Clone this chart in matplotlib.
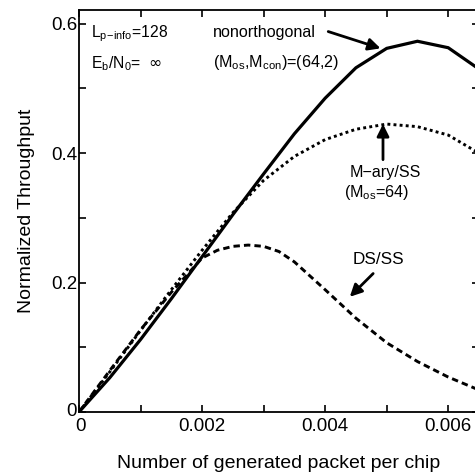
import matplotlib
matplotlib.use("Agg")
import matplotlib.pyplot as plt
import matplotlib.transforms as mtransforms
from matplotlib.ticker import MultipleLocator, FixedLocator, FixedFormatter

plt.rcParams['font.family'] = ['Liberation Sans', 'DejaVu Sans']

# Data
x_solid = [0, 0.0005, 0.001, 0.0015, 0.002, 0.0025, 0.003, 0.0035, 0.004, 0.0045, 0.005, 0.0055, 0.006, 0.0065]
y_nonorth = [0, 0.053, 0.112, 0.175, 0.24, 0.305, 0.368, 0.43, 0.485, 0.532, 0.562, 0.573, 0.563, 0.53]

x_mary = [0, 0.0005, 0.001, 0.0015, 0.002, 0.0025, 0.003, 0.0035, 0.004, 0.0045, 0.005, 0.0055, 0.006, 0.0065]
y_mary = [0, 0.062, 0.126, 0.189, 0.25, 0.308, 0.358, 0.395, 0.421, 0.437, 0.445, 0.441, 0.428, 0.40]

x_ds = [0, 0.0005, 0.001, 0.0015, 0.002, 0.00225, 0.0025, 0.00275, 0.003, 0.00325, 0.0035, 0.004, 0.0045, 0.005, 0.0055, 0.006, 0.0065]
y_ds = [0, 0.064, 0.127, 0.185, 0.238, 0.25, 0.256, 0.258, 0.256, 0.248, 0.232, 0.189, 0.145, 0.107, 0.078, 0.054, 0.034]

xtick_vals = [0, 0.002, 0.004, 0.006]
xtick_labels = ['0', '0.002', '0.004', '0.006']
ytick_vals = [0, 0.2, 0.4, 0.6]
ytick_labels = ['0', '0.2', '0.4', '0.6']

fig = plt.figure(figsize=(4.75, 4.76), dpi=100)
ax = fig.add_axes([79/475, 64/476, 400/475, 402/476])

ax.plot(x_solid, y_nonorth, color='black', lw=2.3, solid_joinstyle='miter')
ax.plot(x_mary, y_mary, color='black', lw=2.1, linestyle=(0, (1.0, 1.1)))
ax.plot(x_ds, y_ds, color='black', lw=2.1, linestyle=(0, (2.2, 1.4)))

ax.set_xlim(0, 0.0065)
ax.set_ylim(0, 0.6213)

ax.xaxis.set_major_locator(FixedLocator(xtick_vals))
ax.xaxis.set_major_formatter(FixedFormatter(xtick_labels))
ax.yaxis.set_major_locator(FixedLocator(ytick_vals))
ax.yaxis.set_major_formatter(FixedFormatter(ytick_labels))
ax.xaxis.set_minor_locator(MultipleLocator(0.001))
ax.yaxis.set_minor_locator(MultipleLocator(0.1))
ax.tick_params(which='both', direction='in', top=True, right=True, length=5, width=1.2,
               labelsize=13.5)
ax.tick_params(axis='y', pad=1)
ax.tick_params(axis='x', pad=4)
for s in ax.spines.values():
    s.set_linewidth(1.3)

# nudge the two origin "0" labels apart slightly
yl0 = ax.yaxis.get_major_ticks()[0].label1
yl0.set_transform(yl0.get_transform() + mtransforms.ScaledTranslation(-1/100, 3/100, fig.dpi_scale_trans))
xl0 = ax.xaxis.get_major_ticks()[0].label1
xl0.set_transform(xl0.get_transform() + mtransforms.ScaledTranslation(2/100, 0, fig.dpi_scale_trans))

ax.set_xlabel('Number of generated packet per chip', fontsize=14, labelpad=15)
ax.set_ylabel('Normalized Throughput', fontsize=14, labelpad=12)

ax.text(0.0002, 0.585, r'L$_{\mathregular{p\!-\!info}}$=128', fontsize=11.3, va='center', ha='left')
ax.text(0.0002, 0.538, r'E$_{\mathregular{b}}$/N$_{\mathregular{0}}$=  $\infty$', fontsize=11.3, va='center', ha='left')

ax.text(0.00218, 0.586, 'nonorthogonal', fontsize=11.6, va='center', ha='left')
ax.text(0.00218, 0.540, r'(M$_{\mathregular{os}}$,M$_{\mathregular{con}}$)=(64,2)', fontsize=11.6, va='center', ha='left')
ax.annotate('', xy=(0.00490, 0.562), xytext=(0.00405, 0.588),
            arrowprops=dict(arrowstyle='-|>', color='black', lw=2, mutation_scale=18,
                            shrinkA=0, shrinkB=0))

ax.text(0.00497, 0.370, 'M\u2212ary/SS', fontsize=11.6, va='center', ha='center')
ax.text(0.00483, 0.339, r'(M$_{\mathregular{os}}$=64)', fontsize=11.6, va='center', ha='center')
ax.annotate('', xy=(0.00494, 0.445), xytext=(0.00494, 0.390),
            arrowprops=dict(arrowstyle='-|>', color='black', lw=2, mutation_scale=18,
                            shrinkA=0, shrinkB=0))

ax.text(0.00486, 0.235, 'DS/SS', fontsize=12.3, va='center', ha='center')
ax.annotate('', xy=(0.00440, 0.178), xytext=(0.00478, 0.214),
            arrowprops=dict(arrowstyle='-|>', color='black', lw=2, mutation_scale=18,
                            shrinkA=0, shrinkB=0))

fig.savefig('out.png', dpi=100)
